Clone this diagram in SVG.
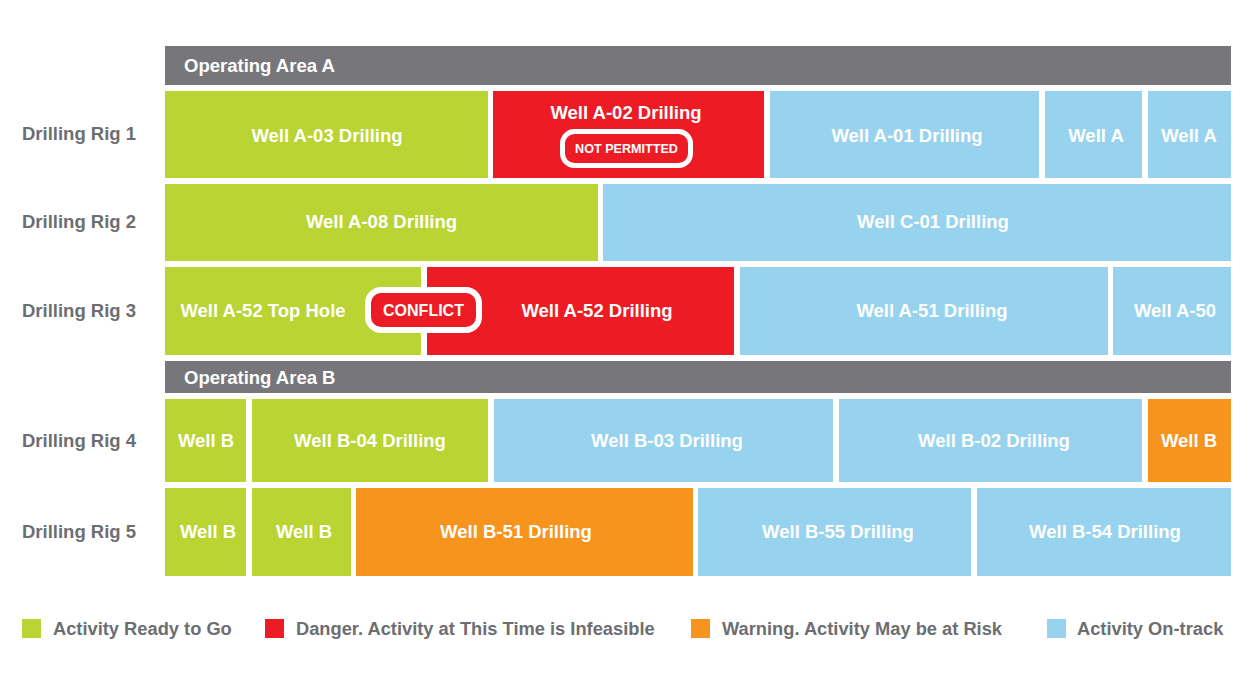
<svg xmlns="http://www.w3.org/2000/svg" width="1260" height="678" viewBox="0 0 1260 678">
<style>
.hdr{fill:#77777b}
.g{fill:#b9d433}.r{fill:#ed1c24}.b{fill:#97d3ee}.o{fill:#f7941e}
text{font-family:"Liberation Sans",Arial,sans-serif;font-weight:bold}
.t{fill:#fff;font-size:18.5px;text-anchor:middle}
.h{fill:#fff;font-size:18.5px}
.lab{fill:#6d6e71;font-size:18.5px}
.leg{fill:#6d6e71;font-size:18.3px}
.badge{fill:#ed1c24;stroke:#fff}
</style>
<rect width="1260" height="678" fill="#fff"/>
<g id="header-a"><rect class="hdr" x="165" y="46" width="1066" height="39"/><text class="h" x="184" y="72">Operating Area A</text></g>
<g id="header-b"><rect class="hdr" x="165" y="361" width="1066" height="32"/><text class="h" x="184" y="384">Operating Area B</text></g>
<g id="row-labels">
<text class="lab" x="22" y="140">Drilling Rig 1</text>
<text class="lab" x="22" y="228">Drilling Rig 2</text>
<text class="lab" x="22" y="317">Drilling Rig 3</text>
<text class="lab" x="22" y="447">Drilling Rig 4</text>
<text class="lab" x="22" y="538">Drilling Rig 5</text>
</g>
<g id="rig1">
<g id="a03"><rect class="g" x="165" y="91" width="323" height="87"/><text class="t" x="327" y="142">Well A-03 Drilling</text></g>
<g id="a02"><rect class="r" x="493" y="91" width="271" height="87"/><text class="t" x="626" y="119">Well A-02 Drilling</text>
<rect class="badge" x="562.5" y="131.5" width="128" height="34" rx="12" stroke-width="5"/><text x="626.5" y="152.5" fill="#fff" font-size="12.6" text-anchor="middle">NOT PERMITTED</text></g>
<g id="a01"><rect class="b" x="770" y="91" width="269" height="87"/><text class="t" x="907" y="142">Well A-01 Drilling</text></g>
<g id="a-x1"><rect class="b" x="1045" y="91" width="97" height="87"/><text class="t" x="1096" y="142">Well A</text></g>
<g id="a-x2"><rect class="b" x="1148" y="91" width="83" height="87"/><text class="t" x="1189" y="142">Well A</text></g>
</g>
<g id="rig2">
<g id="a08"><rect class="g" x="165" y="184" width="433" height="77"/><text class="t" x="381.5" y="228">Well A-08 Drilling</text></g>
<g id="c01"><rect class="b" x="603" y="184" width="628" height="77"/><text class="t" x="933" y="228">Well C-01 Drilling</text></g>
</g>
<g id="rig3">
<g id="a52top"><rect class="g" x="165" y="267" width="256" height="88"/><text class="t" x="263" y="317">Well A-52 Top Hole</text></g>
<g id="a52"><rect class="r" x="427" y="267" width="307" height="88"/><text class="t" x="597" y="317">Well A-52 Drilling</text></g>
<g id="a51"><rect class="b" x="740" y="267" width="368" height="88"/><text class="t" x="932" y="317">Well A-51 Drilling</text></g>
<g id="a50"><rect class="b" x="1113" y="267" width="118" height="88"/><text class="t" x="1175" y="317">Well A-50</text></g>
<g id="conflict"><rect class="badge" x="368" y="290" width="111" height="40" rx="13" stroke-width="6"/><text x="423.5" y="316" fill="#fff" font-size="16" text-anchor="middle">CONFLICT</text></g>
</g>
<g id="rig4">
<g id="b-x1"><rect class="g" x="165" y="399" width="81" height="83"/><text class="t" x="206" y="447">Well B</text></g>
<g id="b04"><rect class="g" x="252" y="399" width="236" height="83"/><text class="t" x="370" y="447">Well B-04 Drilling</text></g>
<g id="b03"><rect class="b" x="494" y="399" width="339" height="83"/><text class="t" x="667" y="447">Well B-03 Drilling</text></g>
<g id="b02"><rect class="b" x="839" y="399" width="303" height="83"/><text class="t" x="994" y="447">Well B-02 Drilling</text></g>
<g id="b-x2"><rect class="o" x="1148" y="399" width="83" height="83"/><text class="t" x="1189" y="447">Well B</text></g>
</g>
<g id="rig5">
<g id="b-x3"><rect class="g" x="165" y="488" width="81" height="88"/><text class="t" x="208" y="538">Well B</text></g>
<g id="b-x4"><rect class="g" x="252" y="488" width="99" height="88"/><text class="t" x="304" y="538">Well B</text></g>
<g id="b51"><rect class="o" x="356" y="488" width="337" height="88"/><text class="t" x="516" y="538">Well B-51 Drilling</text></g>
<g id="b55"><rect class="b" x="698" y="488" width="273" height="88"/><text class="t" x="838" y="538">Well B-55 Drilling</text></g>
<g id="b54"><rect class="b" x="977" y="488" width="254" height="88"/><text class="t" x="1105" y="538">Well B-54 Drilling</text></g>
</g>
<g id="connectors"></g>
<g id="legend">
<rect class="g" x="22" y="619" width="19" height="19"/><text class="leg" x="53" y="635">Activity Ready to Go</text>
<rect class="r" x="265" y="619" width="19" height="19"/><text class="leg" x="296" y="635">Danger. Activity at This Time is Infeasible</text>
<rect class="o" x="691" y="619" width="19" height="19"/><text class="leg" x="722" y="635">Warning. Activity May be at Risk</text>
<rect class="b" x="1047" y="619" width="19" height="19"/><text class="leg" x="1077" y="635">Activity On-track</text>
</g>
</svg>
